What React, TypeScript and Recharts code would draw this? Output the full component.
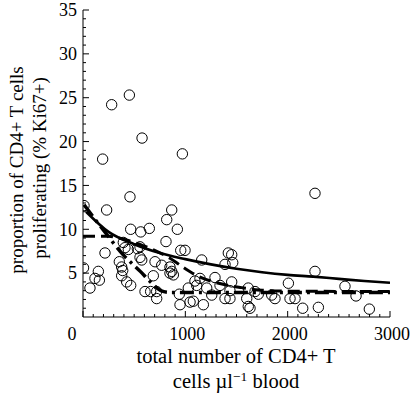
import React from 'react';
import { ComposedChart, Scatter, Line, XAxis, YAxis, Label } from 'recharts';

// observed patients: CD4+ count (cells/µl) and % Ki67+
const cellCounts = [
  10, 5, 68, 117, 150, 160, 192, 215, 231, 280, 355, 378, 388, 378, 394, 410, 427, 443, 453, 459,
  466, 466, 531, 557, 557, 564, 574, 577, 606, 648, 661, 687, 704, 720, 720, 769, 811, 818, 850, 850,
  867, 867, 883, 922, 941, 948, 955, 971, 997, 1029, 1046, 1078, 1094, 1111, 1143, 1160, 1176, 1209, 1258, 1290,
  1339, 1388, 1388, 1420, 1453, 1463, 1453, 1436, 1436, 1600, 1615, 1632, 1615, 1681, 1713, 1844, 1876, 2007, 2023, 2072,
  2147, 2267, 2267, 2300, 2560, 2668, 2798,
];
const kiPercent = [
  12.7, 5.6, 3.3, 4.4, 5.2, 4.2, 18.0, 7.3, 12.2, 24.2, 6.3, 5.7, 5.3, 4.7, 8.5, 7.9, 4.0, 7.7, 25.3, 13.7,
  10.0, 3.6, 7.8, 6.8, 8.0, 9.7, 6.5, 20.4, 2.9, 10.1, 2.9, 4.7, 6.3, 2.1, 2.9, 5.9, 8.6, 11.1, 5.0, 5.7,
  12.2, 5.2, 4.8, 10.0, 2.6, 1.4, 7.6, 18.6, 7.6, 3.3, 1.7, 1.8, 4.1, 3.6, 4.4, 6.5, 1.4, 3.3, 2.5, 4.5,
  3.6, 2.1, 6.0, 7.3, 7.1, 6.2, 4.0, 3.0, 2.1, 2.1, 1.2, 1.0, 3.3, 2.9, 2.6, 2.5, 2.1, 3.85, 2.1, 2.1,
  1.0, 14.1, 5.2, 1.1, 3.5, 2.4, 0.9,
];

// fitted curves
const smoothX = [30, 250, 500, 750, 1000, 1250, 1500, 1750, 2000, 2250, 2500, 2750, 3000];
const smoothY = [12.0, 9.7, 8.3, 7.3, 6.6, 6.0, 5.5, 5.1, 4.8, 4.6, 4.35, 4.1, 3.9];

const plateauX = [0, 250, 350, 450, 550, 700, 850, 950, 1100, 1250, 1400, 1550, 1750, 2000, 3000];
const plateauY = [9.2, 9.2, 9.0, 8.7, 8.3, 7.6, 6.7, 5.9, 4.8, 4.1, 3.65, 3.35, 3.05, 2.95, 2.9];

const steepX = [10, 200, 400, 560, 660, 760, 850, 3000];
const steepY = [12.8, 9.9, 7.0, 5.2, 4.0, 3.0, 2.8, 2.8];

const xMajor = [0, 1000, 2000, 3000];
const yMajor = [5, 10, 15, 20, 25, 30, 35];
const xTicks = Array.from({ length: 31 }, (_, i) => i * 100);
const yTicks = Array.from({ length: 35 }, (_, i) => i + 1);

const font = '"Liberation Serif", "Times New Roman", serif';

const zip = (xs: number[], ys: number[]) => xs.map((x, i) => ({ x, y: ys[i] }));
const points = zip(cellCounts, kiPercent);
const smooth = zip(smoothX, smoothY);
const plateau = zip(plateauX, plateauY);
const steep = zip(steepX, steepY);

const XTick = (props: any) => {
  const { x, y, payload } = props;
  const v = payload.value;
  const major = xMajor.includes(v);
  return (
    <g>
      <line x1={x} x2={x} y1={y} y2={y - (major ? 6 : 3)} stroke="#000" />
      {major && (
        <text x={x + (v === 0 ? -11 : 2)} y={y + 23} textAnchor="middle" fontFamily={font} fontSize={18} fill="#000">
          {v}
        </text>
      )}
    </g>
  );
};

const YTick = (props: any) => {
  const { x, y, payload } = props;
  const v = payload.value;
  const major = yMajor.includes(v);
  return (
    <g>
      <line x1={x} x2={x + (major ? 6 : 3)} y1={y} y2={y} stroke="#000" />
      {major && (
        <text x={x - 6} y={y} dy="0.35em" textAnchor="end" fontFamily={font} fontSize={18} fill="#000">
          {v}
        </text>
      )}
    </g>
  );
};

const Ring = (props: any) => <circle cx={props.cx} cy={props.cy} r={5.2} fill="none" stroke="#000" strokeWidth={1} />;

const XTitle = () => (
  <g fontFamily={font} fontSize={20.5} fill="#000">
    <text x={236} y={363} textAnchor="middle">total number of CD4+ T</text>
    <text x={236} y={388} textAnchor="middle">
      cells µl<tspan dy={-7} fontSize={13.5}>−1</tspan>
      <tspan dy={7}> blood</tspan>
    </text>
  </g>
);

const YTitle = () => (
  <g fontFamily={font} fontSize={19} fill="#000">
    <text x={23} y={170} textAnchor="middle" transform="rotate(-90 23 170)">proportion of CD4+ T cells</text>
    <text x={46} y={168} textAnchor="middle" transform="rotate(-90 46 168)">proliferating (% Ki67+)</text>
  </g>
);

export default function App() {
  return (
    <div style={{ position: 'absolute', left: 0, top: 0, width: 410, height: 401, background: '#fff' }}>
      <ComposedChart width={410} height={401} margin={{ top: 10, right: 20, bottom: 0, left: 0 }}>
        <XAxis
          type="number"
          dataKey="x"
          domain={[0, 3000]}
          ticks={xTicks}
          interval={0}
          tickSize={0}
          tickMargin={0}
          tickLine={false}
          tick={<XTick />}
          axisLine={{ stroke: '#000', strokeWidth: 1 }}
          height={84}
          allowDataOverflow
        >
          <Label content={<XTitle />} />
        </XAxis>
        <YAxis
          type="number"
          dataKey="y"
          domain={[0, 35]}
          ticks={yTicks}
          interval={0}
          tickSize={0}
          tickMargin={0}
          tickLine={false}
          tick={<YTick />}
          axisLine={{ stroke: '#000', strokeWidth: 1 }}
          width={83}
          allowDataOverflow
        >
          <Label content={<YTitle />} />
        </YAxis>
        <Scatter data={points} dataKey="y" shape={<Ring />} isAnimationActive={false} />
        <Line data={smooth} dataKey="y" type="monotone" stroke="#000" strokeWidth={2.6} dot={false} activeDot={false} isAnimationActive={false} />
        <Line data={plateau} dataKey="y" type="monotone" stroke="#000" strokeWidth={3} strokeDasharray="12 6" dot={false} activeDot={false} isAnimationActive={false} />
        <Line data={steep} dataKey="y" type="monotone" stroke="#000" strokeWidth={3.5} strokeDasharray="14 5 3 5" dot={false} activeDot={false} isAnimationActive={false} />
      </ComposedChart>
    </div>
  );
}
